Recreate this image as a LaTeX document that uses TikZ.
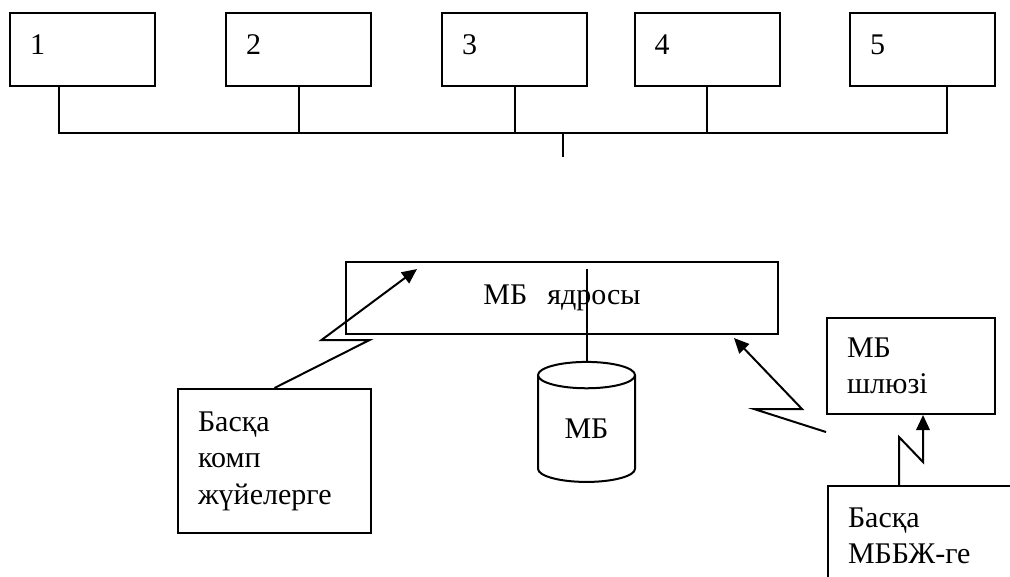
\documentclass[tikz,border=0pt]{standalone}
\usepackage{fontspec}
\setmainfont{Liberation Serif}
\usetikzlibrary{shapes.geometric,arrows.meta}
\tikzset{
  blok/.style={draw, line width=0.8pt, align=left, inner xsep=8pt, inner ysep=0pt},
  nummer/.style={blok, text width=42pt, minimum height=29.2pt, text depth=3.6pt},
  bolt/.style={line width=0.8pt, -{Triangle[length=6pt,width=5.4pt]}},
}
\begin{document}
\begin{tikzpicture}[x=0.4pt, y=-0.4pt, line width=0.8pt, font=\fontsize{12}{14.6}\selectfont]
      \useasboundingbox (0,0) rectangle (1010,576);
      \clip (0,0) rectangle (1010,576);
      \draw
        (82.5,49.5) node[nummer] (1){1}
        (298.5,49.5) node[nummer] (2){2}
        (514.5,49.5) node[nummer] (3){3}
        (707,49.5) node[nummer] (4){4}
        (922.5,49.5) node[nummer] (5){5};
      \coordinate (busL) at (59,133);
      \coordinate (busR) at (947,133);
      \coordinate (tap) at (563,157);
      \draw (busL |- 1.south) -- (busL) -- (busR) -- (busR |- 5.south);
      \foreach \i in {2,3,4}
        \draw (\i.south) -- (\i.south |- busL);
      \draw (tap |- busL) -- (tap);
      \draw
        (562,298) node[blok, align=center, text width=156.8pt, minimum height=28.8pt] (core){МБ\ \ ядросы}
        (274.5,461) node[blok, text width=61.2pt, minimum height=57.6pt] (other){Басқа\\комп\\жүйелерге}
        (911,366) node[blok, text width=51.2pt, minimum height=38.4pt] (gate){МБ\\шлюзі}
        (827,485) node[blok, anchor=north west, text width=64pt, minimum height=40pt] (peer){Басқа\\МББЖ-ге};
      \node[draw, cylinder, shape border rotate=90, aspect=0.6, minimum width=38.8pt, minimum height=48pt, inner sep=0pt] (db) at (586.5,429) {МБ};
      \draw (db.top) -- ([yshift=-3.2pt]db.top |- core.north);
      \coordinate (gw) at ([yshift=-6.8pt]gate.south west);
      \begin{scope}[bolt]
        \draw (other.north) -- ++(95,-48) -- ++(-48,0) -- ([shift={(72,8)}]core.north west);
        \draw (gw) -- ++(-72,-23) -- ++(48,0) -- ([shift={(-45,3)}]core.south east);
        \draw ([xshift=28.8pt]peer.north west) -- ++(0,-48) -- ++(24,25) -- ([xshift=4.8pt]gate.south);
      \end{scope}
    \end{tikzpicture}
\end{document}
